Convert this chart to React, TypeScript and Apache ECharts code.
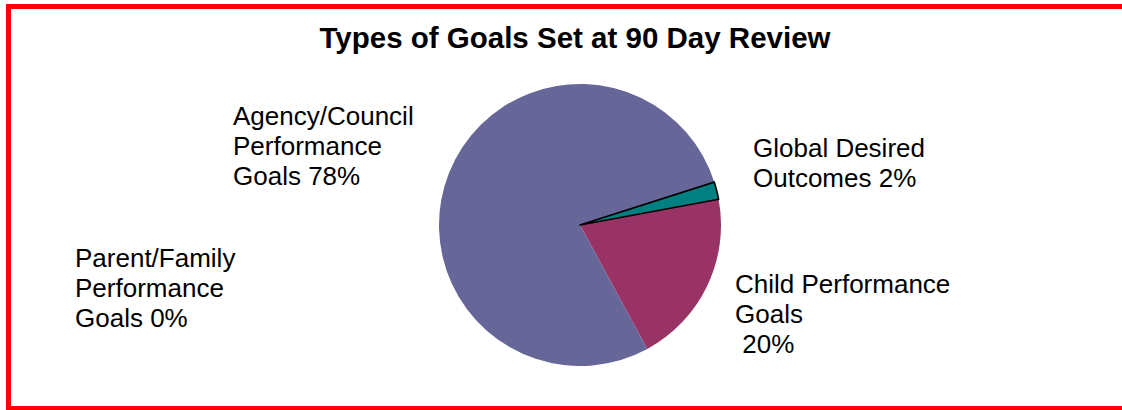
import React, { useEffect, useRef } from "react";
import * as echarts from "echarts";

const titleText = "Types of Goals Set at 90 Day Review";
// drawn clockwise starting from the Child slice
const names = [
  "Child Performance\nGoals",
  "Agency/Council\nPerformance\nGoals",
  "Parent/Family\nPerformance\nGoals",
  "Global Desired\nOutcomes",
];
const separators = ["\n ", " ", " ", " "];
const values = [20, 78, 0, 2];
const colors = ["#993366", "#666699", "#9999FF", "#008080"];
// label anchor (left/top) positions
const labelPos: [number, number][] = [
  [735, 269],
  [233, 101],
  [75, 243],
  [753, 133],
];

export default function App() {
  const ref = useRef<HTMLDivElement>(null);
  useEffect(() => {
    if (!ref.current) return;
    const chart = echarts.init(ref.current, undefined, { renderer: "svg" });
    const font = "'Liberation Sans', Arial, Helvetica, sans-serif";
    chart.setOption({
      animation: false,
      backgroundColor: "#ffffff",
      title: {
        text: titleText,
        left: 570,
        textAlign: "center",
        top: 17,
        textStyle: { fontFamily: font, fontSize: 29.5, fontWeight: "bold", color: "#000" },
      },
      graphic: [
        {
          type: "rect",
          shape: { x: 8.5, y: 6.5, width: 1130, height: 402 },
          style: { fill: "none", stroke: "#ff0000", lineWidth: 5 },
          silent: true,
        },
      ],
      series: [
        {
          type: "pie",
          center: [580, 225],
          radius: 141,
          startAngle: 10.5,
          clockwise: true,
          avoidLabelOverlap: false,
          stillShowZeroSum: true,
          data: values.map((v, i) => ({
            value: v,
            name: names[i],
            itemStyle:
              i === 3
                ? { color: colors[i], borderColor: "#000", borderWidth: 1.6 }
                : { color: colors[i], borderWidth: 0 },
          })),
          label: {
            show: true,
            position: "outside",
            fontFamily: font,
            fontSize: 26,
            lineHeight: 30,
            color: "#000",
            align: "left",
            formatter: (p: any) =>
              `${p.name}${separators[p.dataIndex]}${Math.round(p.percent)}%`,
          },
          labelLine: { show: false },
          labelLayout: (params: any) => ({
            x: labelPos[params.dataIndex][0],
            y: labelPos[params.dataIndex][1],
            align: "left",
            verticalAlign: "top",
          }),
        },
      ],
    });
    return () => chart.dispose();
  }, []);
  return (
    <div
      ref={ref}
      style={{ position: "fixed", left: 0, top: 0, width: 1122, height: 410, background: "#fff" }}
    />
  );
}
